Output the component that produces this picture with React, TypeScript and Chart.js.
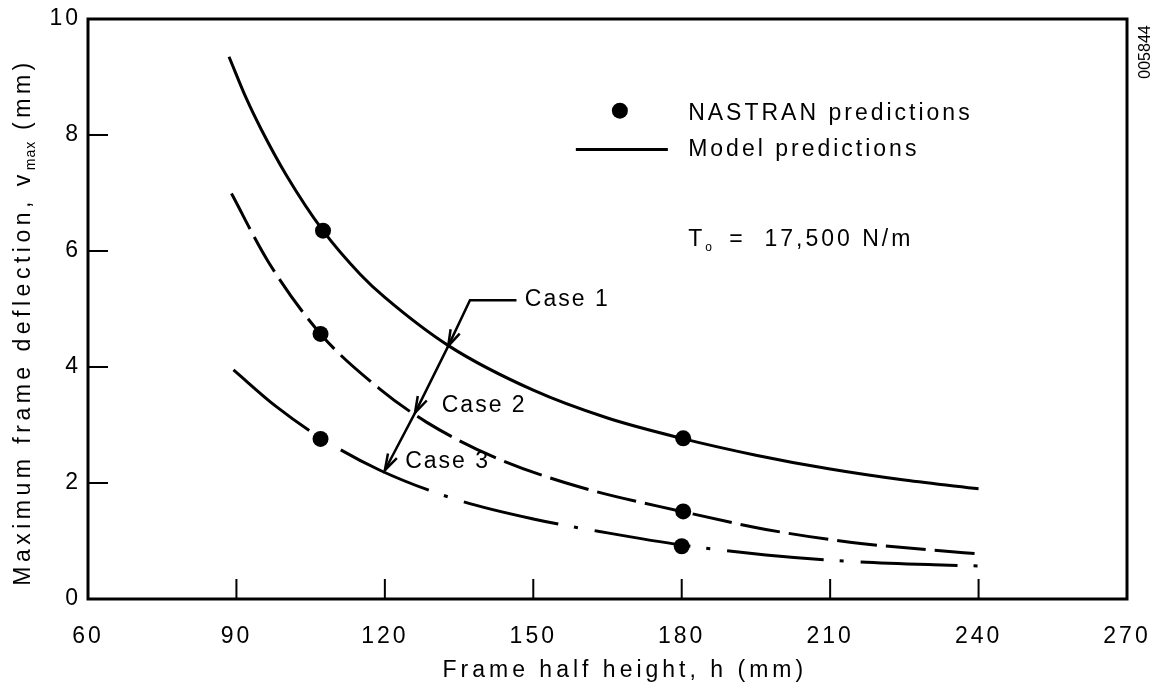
import React, { useEffect, useRef } from 'react';
import { Chart, registerables } from 'chart.js';

Chart.register(...registerables);

const FONT = '"Liberation Sans", Arial, Helvetica, sans-serif';

// Axis ticks
const xTickValues = [60, 90, 120, 150, 180, 210, 240, 270];
const yTickValues = [0, 2, 4, 6, 8, 10];
const innerXTicks = [90, 120, 150, 180, 210, 240];
const innerYTicks = [2, 4, 6, 8];

// Model predictions (curves), h in mm, v_max in mm
const case1H = [88.5, 92, 95, 100, 107.5, 115, 120, 133, 150, 165, 180, 195, 210, 225, 240];
const case1V = [9.35, 8.63, 8.1, 7.32, 6.35, 5.6, 5.2, 4.36, 3.6, 3.12, 2.77, 2.48, 2.24, 2.05, 1.9];

const case2H = [89, 96.4, 107, 119, 128.4, 142, 159.4, 180, 197, 214, 231, 240];
const case2V = [6.99, 5.82, 4.57, 3.62, 3.05, 2.45, 1.93, 1.51, 1.2, 0.98, 0.84, 0.78];

const case3H = [89.4, 98, 107, 119, 135, 150, 165, 180, 197, 214, 231, 240];
const case3V = [3.95, 3.32, 2.78, 2.22, 1.7, 1.38, 1.14, 0.93, 0.76, 0.65, 0.59, 0.57];

// NASTRAN predictions (dots)
const nastranH = [107.5, 180.3, 107, 180.3, 107, 180];
const nastranV = [6.35, 2.77, 4.57, 1.51, 2.76, 0.91];

// Texts
const xTitle = 'Frame half height, h (mm)';
const yTitleMain = 'Maximum frame deflection, v';
const yTitleSub = 'max';
const yTitleEnd = ' (mm)';
const legendDotLabel = 'NASTRAN predictions';
const legendLineLabel = 'Model predictions';
const noteMain = 'T';
const noteSub = 'o';
const noteRest = '=  17,500 N/m';
const figureId = '005844';
const caseLabels = ['Case 1', 'Case 2', 'Case 3'];
// annotation anchors in data coordinates (h, v)
const caseLabelH = [148.3, 131.5, 124.1];
const caseLabelV = [5.16, 3.33, 2.36];
const arrowH = [146.6, 137.2, 132.8, 126.1, 120.0];
const arrowV = [5.15, 5.15, 4.36, 3.21, 2.22];

const toPts = (h: number[], v: number[]) => h.map((x, i) => ({ x, y: v[i] }));

const overlay = {
  id: 'overlay',
  beforeDraw(chart: any) {
    const ctx = chart.ctx;
    ctx.save();
    ctx.fillStyle = '#fff';
    ctx.fillRect(0, 0, chart.width, chart.height);
    ctx.restore();
    (ctx as any).letterSpacing = '3px';
  },
  afterDraw(chart: any) {
    const ctx: CanvasRenderingContext2D = chart.ctx;
    (ctx as any).letterSpacing = '0px';
    const a = chart.chartArea;
    const xs = chart.scales.x;
    const ys = chart.scales.y;
    const px = (h: number) => xs.getPixelForValue(h);
    const py = (v: number) => ys.getPixelForValue(v);
    ctx.save();
    ctx.strokeStyle = '#000';
    ctx.fillStyle = '#000';
    // frame
    ctx.lineWidth = 3;
    ctx.strokeRect(a.left, a.top, a.right - a.left, a.bottom - a.top);
    // inward tick marks
    ctx.lineWidth = 2;
    ctx.beginPath();
    innerXTicks.forEach((h) => {
      ctx.moveTo(px(h), a.bottom);
      ctx.lineTo(px(h), a.bottom - 20);
    });
    innerYTicks.forEach((v) => {
      ctx.moveTo(a.left, py(v));
      ctx.lineTo(a.left + 20, py(v));
    });
    ctx.stroke();

    const ls = (s: string) => ((ctx as any).letterSpacing = s);

    // x title
    ctx.font = `23px ${FONT}`;
    ls('4px');
    ctx.textAlign = 'center';
    ctx.textBaseline = 'middle';
    ctx.fillText(xTitle, px(168.5), a.bottom + 72);

    // y title (rotated) with subscript
    ctx.save();
    ctx.translate(22, (a.top + a.bottom) / 2 + 13);
    ctx.rotate(-Math.PI / 2);
    ctx.textAlign = 'left';
    ctx.textBaseline = 'alphabetic';
    ctx.font = `23px ${FONT}`;
    ls('4.5px');
    const w1 = ctx.measureText(yTitleMain).width;
    const w3 = ctx.measureText(yTitleEnd).width;
    ctx.font = `14px ${FONT}`;
    ls('1px');
    const w2 = ctx.measureText(yTitleSub).width;
    const total = w1 + w2 + w3;
    let cx = -total / 2;
    ctx.font = `23px ${FONT}`;
    ls('4.5px');
    ctx.fillText(yTitleMain, cx, 8);
    cx += w1;
    ctx.font = `14px ${FONT}`;
    ls('1px');
    ctx.fillText(yTitleSub, cx, 13);
    cx += w2;
    ctx.font = `23px ${FONT}`;
    ls('4.5px');
    ctx.fillText(yTitleEnd, cx, 8);
    ctx.restore();

    // legend
    ctx.beginPath();
    ctx.arc(px(167.5), py(8.42), 8, 0, Math.PI * 2);
    ctx.fill();
    ctx.lineWidth = 3;
    ctx.beginPath();
    ctx.moveTo(px(158.6), py(7.75));
    ctx.lineTo(px(177.2), py(7.75));
    ctx.stroke();
    ctx.font = `23px ${FONT}`;
    ls('3px');
    ctx.textAlign = 'left';
    ctx.textBaseline = 'middle';
    ctx.fillText(legendDotLabel, px(181.3), py(8.36));
    ctx.fillText(legendLineLabel, px(181.3), py(7.75));
    // T_o note
    const ty = py(6.2);
    ctx.fillText(noteMain, px(181.3), ty);
    const tw = ctx.measureText(noteMain).width;
    ctx.font = `12px ${FONT}`;
    ls('0px');
    ctx.fillText(noteSub, px(181.3) + tw, ty + 8);
    ctx.font = `23px ${FONT}`;
    ls('3px');
    ctx.fillText(noteRest, px(181.3) + tw + 24, ty);

    // case labels
    ls('2px');
    caseLabels.forEach((t, i) => {
      ctx.fillText(t, px(caseLabelH[i]), py(caseLabelV[i]));
    });

    // arrows
    ctx.lineWidth = 2.5;
    ctx.beginPath();
    ctx.moveTo(px(arrowH[0]), py(arrowV[0]));
    for (let i = 1; i < arrowH.length; i++) ctx.lineTo(px(arrowH[i]), py(arrowV[i]));
    ctx.stroke();
    for (let i = 2; i < arrowH.length; i++) {
      const tx = px(arrowH[i]);
      const tyy = py(arrowV[i]);
      const fx = px(arrowH[i - 1]);
      const fy = py(arrowV[i - 1]);
      const ang = Math.atan2(tyy - fy, tx - fx);
      const L = 17;
      const s = 0.3;
      ctx.beginPath();
      ctx.moveTo(tx - L * Math.cos(ang - s), tyy - L * Math.sin(ang - s));
      ctx.lineTo(tx, tyy);
      ctx.lineTo(tx - L * Math.cos(ang + s), tyy - L * Math.sin(ang + s));
      ctx.stroke();
    }

    // figure id
    ctx.save();
    ctx.translate(a.right + 19, a.top + 33);
    ctx.rotate(-Math.PI / 2);
    ctx.font = `16px ${FONT}`;
    ls('0px');
    ctx.textAlign = 'center';
    ctx.textBaseline = 'middle';
    ctx.fillText(figureId, 0, 0);
    ctx.restore();

    ctx.restore();
  },
};

export default function App() {
  const ref = useRef<HTMLCanvasElement | null>(null);
  useEffect(() => {
    if (!ref.current) return;
    const lineBase = {
      showLine: true,
      pointRadius: 0,
      pointHoverRadius: 0,
      borderColor: '#000',
      backgroundColor: '#000',
      borderWidth: 3,
      cubicInterpolationMode: 'monotone' as const,
      fill: false,
    };
    const chart = new Chart(ref.current, {
      type: 'scatter',
      data: {
        datasets: [
          { ...lineBase, label: 'Case 1', data: toPts(case1H, case1V) },
          { ...lineBase, label: 'Case 2', data: toPts(case2H, case2V), borderDash: [40, 9] },
          { ...lineBase, label: 'Case 3', data: toPts(case3H, case3V), borderDash: [97, 16, 4, 17] },
          {
            label: 'NASTRAN predictions',
            data: toPts(nastranH, nastranV),
            showLine: false,
            pointRadius: 8,
            pointBackgroundColor: '#000',
            pointBorderWidth: 0,
            backgroundColor: '#000',
          },
        ],
      },
      options: {
        animation: false,
        responsive: false,
        devicePixelRatio: 1,
        layout: { padding: { top: 19, right: 31, left: 0, bottom: 0 } },
        plugins: { legend: { display: false }, tooltip: { enabled: false }, title: { display: false } },
        scales: {
          x: {
            type: 'linear',
            min: 60,
            max: 270,
            afterFit: (s: any) => {
              s.height = 91;
              s.paddingLeft = 0;
              s.paddingRight = 0;
            },
            afterBuildTicks: (s: any) => { s.ticks = xTickValues.map((value) => ({ value })); },
            grid: { display: false, drawTicks: false },
            border: { display: false },
            ticks: { color: '#000', font: { size: 23, family: FONT }, padding: 24, maxRotation: 0, autoSkip: false },
          },
          y: {
            type: 'linear',
            min: 0,
            max: 10,
            afterFit: (s: any) => {
              s.width = 88;
              s.paddingTop = 0;
              s.paddingBottom = 0;
            },
            afterBuildTicks: (s: any) => { s.ticks = yTickValues.map((value) => ({ value })); },
            grid: { display: false, drawTicks: false },
            border: { display: false },
            ticks: { color: '#000', font: { size: 23, family: FONT }, padding: 7 },
          },
        },
      },
      plugins: [overlay],
    });
    return () => chart.destroy();
  }, []);
  return (
    <div style={{ position: 'absolute', left: 0, top: 0, width: 1158, height: 690, background: '#fff' }}>
      <canvas ref={ref} width={1158} height={690} />
    </div>
  );
}
